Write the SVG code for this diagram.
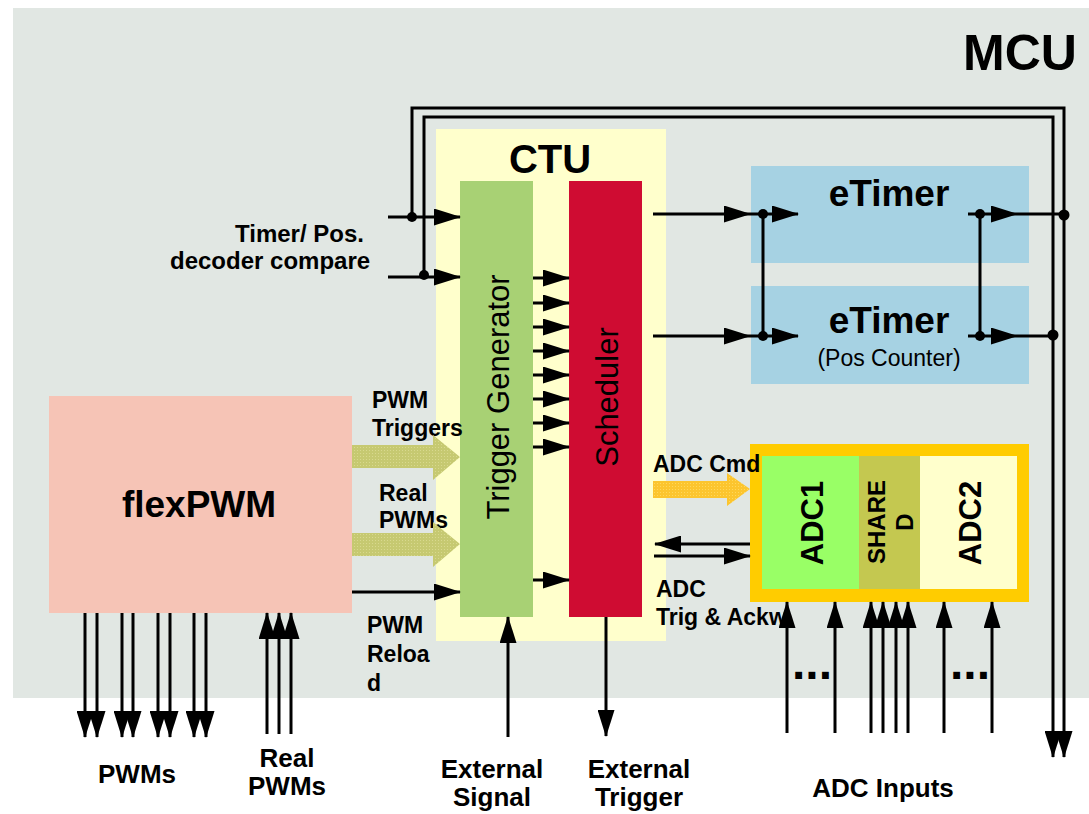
<svg xmlns="http://www.w3.org/2000/svg" width="1089" height="814" viewBox="0 0 1089 814">
<defs>
<style>
.t{font-family:"Liberation Sans",Arial,sans-serif;fill:#000}
.b{font-weight:bold}
.ln{fill:none;stroke:#000;stroke-width:3}
.ar{marker-end:url(#ah)}
.dot{fill:#000}
</style>
<marker id="ah" markerUnits="userSpaceOnUse" markerWidth="27" markerHeight="17" refX="26" refY="8.5" orient="auto">
<path d="M0,0 L27,8.5 L0,17 z" fill="#000"/>
</marker>
<pattern id="olive" width="3" height="3" patternUnits="userSpaceOnUse">
<rect width="3" height="3" fill="#c6c971"/>
<rect width="1" height="1" fill="#d8d98e"/>
</pattern>
<pattern id="yel" width="3" height="3" patternUnits="userSpaceOnUse">
<rect width="3" height="3" fill="#fcc52e"/>
<rect width="1" height="1" fill="#ffd85a"/>
</pattern>
</defs>
<rect x="0" y="0" width="1089" height="814" fill="#fff"/>
<g id="mcu">
<rect x="13" y="8" width="1076" height="690" fill="#e1e7e3"/>
<text class="t b" x="1020" y="70" font-size="50" text-anchor="middle">MCU</text>
</g>
<g id="ctu">
<rect x="436" y="129" width="230" height="512" fill="#ffffcc"/>
<text class="t b" x="550" y="173" font-size="40" text-anchor="middle">CTU</text>
</g>
<g id="trigger-generator">
<rect x="460" y="181" width="73" height="436" fill="#a8d174"/>
<text class="t" transform="translate(509,397) rotate(-90)" font-size="31" text-anchor="middle">Trigger Generator</text>
</g>
<g id="scheduler">
<rect x="569" y="181" width="73" height="436" fill="#cf0c32"/>
<text class="t" transform="translate(618,397) rotate(-90)" font-size="31" text-anchor="middle">Scheduler</text>
</g>
<g id="etimer1">
<rect x="751" y="166" width="278" height="97" fill="#a6d2e3"/>
<text class="t b" x="889" y="206" font-size="37" text-anchor="middle">eTimer</text>
</g>
<g id="etimer2">
<rect x="751" y="286" width="278" height="98" fill="#a6d2e3"/>
<text class="t b" x="889" y="333" font-size="37" text-anchor="middle">eTimer</text>
<text class="t" x="889" y="366" font-size="23" text-anchor="middle">(Pos Counter)</text>
</g>
<g id="flexpwm">
<rect x="49" y="396" width="303" height="217" fill="#f6c4b6"/>
<text class="t b" x="199" y="517" font-size="37" text-anchor="middle">flexPWM</text>
</g>
<g id="adc">
<rect x="750" y="444" width="279" height="158" fill="#ffcc00"/>
<rect x="762" y="456" width="97" height="133" fill="#99ff66"/>
<rect x="859" y="456" width="61" height="133" fill="#c4c850"/>
<rect x="920" y="456" width="97" height="133" fill="#ffffcc"/>
<text class="t b" transform="translate(823,523) rotate(-90)" font-size="31" text-anchor="middle">ADC1</text>
<text class="t b" transform="translate(885,522) rotate(-90)" font-size="24" text-anchor="middle">SHARE</text>
<text class="t b" transform="translate(913,522) rotate(-90)" font-size="24" text-anchor="middle">D</text>
<text class="t b" transform="translate(981,523) rotate(-90)" font-size="31" text-anchor="middle">ADC2</text>
</g>
<g id="labels">
<text class="t b" x="235" y="242" font-size="24">Timer/ Pos.</text>
<text class="t b" x="170" y="269" font-size="24">decoder compare</text>
<text class="t b" x="372" y="408" font-size="23">PWM</text>
<text class="t b" x="372" y="436" font-size="23">Triggers</text>
<text class="t b" x="379" y="501" font-size="23">Real</text>
<text class="t b" x="379" y="528" font-size="23">PWMs</text>
<text class="t b" x="367" y="633" font-size="23">PWM</text>
<text class="t b" x="367" y="662" font-size="23">Reloa</text>
<text class="t b" x="367" y="691" font-size="23">d</text>
<text class="t b" x="653" y="472" font-size="23">ADC Cmd</text>
<text class="t b" x="656" y="597" font-size="23">ADC</text>
<text class="t b" x="656" y="625" font-size="23">Trig &amp; Ackw</text>
<text class="t b" x="792" y="679" font-size="48">...</text>
<text class="t b" x="950" y="679" font-size="48">...</text>
<text class="t b" x="137" y="783" font-size="26" text-anchor="middle">PWMs</text>
<text class="t b" x="287" y="767" font-size="26" text-anchor="middle">Real</text>
<text class="t b" x="287" y="795" font-size="26" text-anchor="middle">PWMs</text>
<text class="t b" x="492" y="778" font-size="26" text-anchor="middle">External</text>
<text class="t b" x="492" y="806" font-size="26" text-anchor="middle">Signal</text>
<text class="t b" x="639" y="778" font-size="26" text-anchor="middle">External</text>
<text class="t b" x="639" y="806" font-size="26" text-anchor="middle">Trigger</text>
<text class="t b" x="883" y="797" font-size="26" text-anchor="middle">ADC Inputs</text>
</g>
<g id="connectors">
<polygon points="352,445 433,445 433,435 460,457 433,480 433,468 352,468" fill="url(#olive)"/>
<polygon points="352,533 433,533 433,522 460,544 433,567 433,556 352,556" fill="url(#olive)"/>
<polygon points="653,481 727,481 727,473 750,489 727,506 727,498 653,498" fill="url(#yel)"/>
<path class="ln ar" d="M412,217 V108 H1064 V757"/>
<path class="ln ar" d="M424,277 V117 H1053 V757"/>
<path class="ln ar" d="M388,217 H460"/>
<path class="ln ar" d="M388,277 H460"/>
<circle class="dot" cx="412" cy="217" r="5"/>
<circle class="dot" cx="424" cy="275" r="5"/>
<path class="ln ar" d="M533,278 H569"/>
<path class="ln ar" d="M533,303 H569"/>
<path class="ln ar" d="M533,327 H569"/>
<path class="ln ar" d="M533,351 H569"/>
<path class="ln ar" d="M533,375 H569"/>
<path class="ln ar" d="M533,399 H569"/>
<path class="ln ar" d="M533,423 H569"/>
<path class="ln ar" d="M533,447 H569"/>
<path class="ln ar" d="M533,580 H569"/>
<path class="ln ar" d="M653,214 H750"/>
<path class="ln ar" d="M750,214 H798"/>
<path class="ln ar" d="M653,336 H750"/>
<path class="ln ar" d="M750,336 H798"/>
<path class="ln" d="M763,214 V336"/>
<circle class="dot" cx="763" cy="214" r="5"/>
<circle class="dot" cx="763" cy="336" r="5"/>
<path class="ln ar" d="M968,214 H1017"/>
<path class="ln" d="M1017,214 H1064"/>
<path class="ln ar" d="M968,336 H1017"/>
<path class="ln" d="M1017,336 H1053"/>
<path class="ln" d="M980,214 V336"/>
<circle class="dot" cx="980" cy="214" r="5"/>
<circle class="dot" cx="980" cy="336" r="5"/>
<circle class="dot" cx="1064" cy="215" r="5.5"/>
<circle class="dot" cx="1053" cy="335" r="5.5"/>
<path class="ln ar" d="M352,592 H460"/>
<path class="ln ar" d="M508,737 V617"/>
<path class="ln ar" d="M606,617 V736"/>
<path class="ln ar" d="M750,544 H655"/>
<path class="ln ar" d="M654,556 H750"/>
<path class="ln ar" d="M787,733 V602"/>
<path class="ln ar" d="M835,733 V602"/>
<path class="ln ar" d="M871,733 V602"/>
<path class="ln ar" d="M883,733 V602"/>
<path class="ln ar" d="M896,733 V602"/>
<path class="ln ar" d="M908,733 V602"/>
<path class="ln ar" d="M944,733 V602"/>
<path class="ln ar" d="M992,733 V602"/>
<path class="ln ar" d="M85,613 V737"/>
<path class="ln ar" d="M97,613 V737"/>
<path class="ln ar" d="M122,613 V737"/>
<path class="ln ar" d="M133,613 V737"/>
<path class="ln ar" d="M158,613 V737"/>
<path class="ln ar" d="M170,613 V737"/>
<path class="ln ar" d="M194,613 V737"/>
<path class="ln ar" d="M206,613 V737"/>
<path class="ln ar" d="M267,734 V613"/>
<path class="ln ar" d="M279,734 V613"/>
<path class="ln ar" d="M291,734 V613"/>
</g>
</svg>
